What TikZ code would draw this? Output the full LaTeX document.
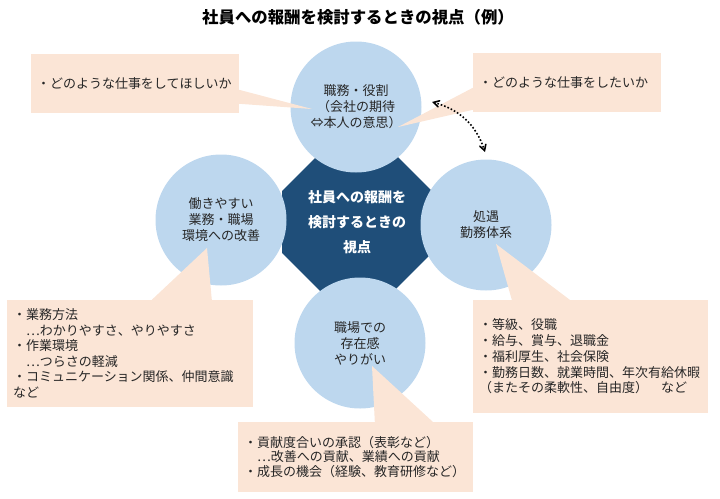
\documentclass[tikz,border=0pt]{standalone}
\usepackage{fontspec}
\setmainfont{Noto Sans CJK JP}
\usetikzlibrary{shapes.geometric, arrows, positioning}
\definecolor{navy}{HTML}{1F4E79}
\definecolor{skyblue}{HTML}{BDD7EE}
\definecolor{peach}{HTML}{FBE5D6}
\newcommand{\fwdots}{{\addfontfeatures{CharacterWidth=Full}…}}
\tikzset{x=1pt, y=-1pt,
every node/.style={text=black!85},
view/.style={circle, fill=skyblue, minimum size=131pt, inner sep=0pt, align=center,
    font=\fontsize{13}{16}\selectfont},
callout/.style={fill=peach, inner xsep=6pt, inner ysep=0pt, align=left,
    font=\fontsize{13}{15.5}\selectfont},
dotarrow/.style={<->, >=angle 60, line width=1.6pt, dotted},
}

\begin{document}
\begin{tikzpicture}
    \useasboundingbox (0,0) rectangle (720,498);
        \node[font=\bfseries\fontsize{16.4}{18}\selectfont, text=black] (title) at (358,17)
            {社員への報酬を検討するときの視点（例）};
        \node[regular polygon, regular polygon sides=8, minimum size=162pt, inner sep=0pt,
            fill=navy, text=white, align=center, font=\bfseries\fontsize{14}{25}\selectfont]
            (hub) at (357,222) {社員への報酬を\\検討するときの\\視点};
        \node[view] (role) at (356,107) {職務・役割\\（会社の期待\\⇔本人の意思）};
        \node[view] (env) at (221,220) {働きやすい\\業務・職場\\環境への改善};
        \node[view] (pay) at (486,225) {処遇\\勤務体系};
        \node[view] (worth) at (360,343) {職場での\\存在感\\やりがい};

        \node[callout, text width=196pt, minimum height=59pt] (tl) at (135,83.5)
            {・どのような仕事をしてほしいか};
        \node[callout, text width=176pt, minimum height=59pt] (tr) at (567,82.5)
            {・どのような仕事をしたいか};
        \node[callout, text width=234pt, minimum height=107pt] (bl) at (130,353.5)
            {・業務方法\\　\fwdots わかりやすさ、やりやすさ\\・作業環境\\　\fwdots つらさの軽減\\・コミュニケーション関係、仲間意識\\など};
        \node[callout, text width=223pt, minimum height=70pt, font=\fontsize{13}{14.5}\selectfont]
            (bm) at (355.5,457)
            {・貢献度合いの承認（表彰など）\\　\fwdots 改善への貢献、業績への貢献\\・成長の機会（経験、教育研修など）};
        \node[callout, text width=223pt, minimum height=113pt, font=\fontsize{13}{15.75}\selectfont]
            (br) at (590.5,356.5)
            {・等級、役職\\・給与、賞与、退職金\\・福利厚生、社会保険\\・勤務日数、就業時間、年次有給休暇\\（またその柔軟性、自由度）　など};

        \coordinate (tl-tip) at (312,109);
        \coordinate (tr-tip) at (398,127);
        \coordinate (bl-tip) at (207,248);
        \coordinate (bm-tip) at (372,366);
        \coordinate (br-tip) at (496,244);
        \fill[peach] ([yshift=-36pt]tl.north east) -- (tl-tip) -- ([yshift=-50pt]tl.north east) -- cycle;
        \fill[peach] ([yshift=-35pt]tr.north west) -- (tr-tip) -- ([yshift=-57pt]tr.north west) -- cycle;
        \fill[peach] ([xshift=145pt]bl.north west) -- (bl-tip) -- ([xshift=205pt]bl.north west) -- cycle;
        \fill[peach] ([xshift=137pt]bm.north west) -- (bm-tip) -- ([xshift=195pt]bm.north west) -- cycle;
        \fill[peach] ([xshift=39pt]br.north west) -- (br-tip) -- ([xshift=97pt]br.north west) -- cycle;

        \coordinate (arrow-a) at (432,102);
        \coordinate (arrow-b) at (485,152);
        \draw[dotarrow] (arrow-a) to[out=-15, in=108] (arrow-b);
    \end{tikzpicture}
\end{document}
